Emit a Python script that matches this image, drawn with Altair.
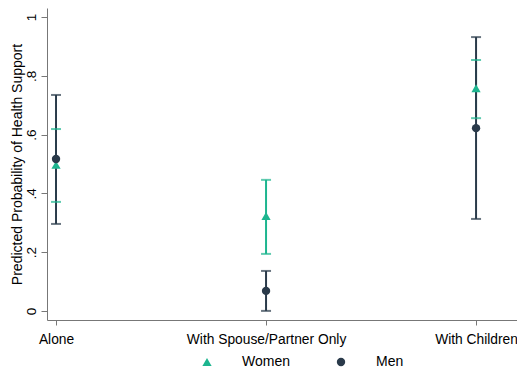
import altair as alt
import pandas as pd

categories = ["Alone", "With Spouse/Partner Only", "With Children"]
groups = ["Women", "Men"]
women_est = [0.497, 0.323, 0.758]
women_lo = [0.371, 0.194, 0.656]
women_hi = [0.619, 0.446, 0.854]
men_est = [0.517, 0.068, 0.622]
men_lo = [0.296, 0.000, 0.313]
men_hi = [0.735, 0.136, 0.932]

rows = []
for i, c in enumerate(categories):
    rows.append({"pos": i, "cat": c, "group": "Women", "est": women_est[i], "lo": women_lo[i], "hi": women_hi[i], "ord": 0})
    rows.append({"pos": i, "cat": c, "group": "Men", "est": men_est[i], "lo": men_lo[i], "hi": men_hi[i], "ord": 1})
df = pd.DataFrame(rows)

colors = ["#1db58f", "#2a3a4a"]

xlab = "datum.value == 0 ? 'Alone' : datum.value == 1 ? 'With Spouse/Partner Only' : 'With Children'"
x = alt.X("pos:Q", scale=alt.Scale(domain=[-0.043, 2.195], nice=False, zero=False),
          axis=alt.Axis(values=[0, 1, 2], labelExpr=xlab, title=None, grid=False,
                        domainColor="#777777", tickColor="#777777", tickSize=5,
                        labelFont="Liberation Sans", labelFontSize=13.8, labelColor="#000000",
                        labelPadding=7, labelFlush=False))
yscale = alt.Scale(domain=[-0.031, 1.031], nice=False, zero=False)
yaxis = alt.Axis(values=[0, 0.2, 0.4, 0.6, 0.8, 1.0],
                 labelExpr="datum.value == 0 ? '0' : datum.value == 1 ? '1' : replace(format(datum.value, '.1f'), '0.', '.')",
                 title="Predicted Probability of Health Support", grid=False,
                 domainColor="#777777", tickColor="#777777", tickSize=6,
                 labelFont="Liberation Sans", labelFontSize=13.5, labelColor="#000000",
                 labelAngle=-90, labelAlign="center", labelBaseline="bottom", labelPadding=3,
                 titleFont="Liberation Sans", titleFontSize=14, titleFontWeight="normal",
                 titleColor="#000000", titlePadding=0)

base = alt.Chart(df)

rules = []
caps = []
for g, c in zip(groups, colors):
    d = base.transform_filter(alt.datum.group == g)
    rules.append(d.mark_rule(color=c, strokeWidth=2).encode(x=x, y=alt.Y("lo:Q", scale=yscale, axis=yaxis), y2="hi:Q"))
    caps.append(d.mark_tick(color=c, orient="horizontal", size=10, thickness=2).encode(x=x, y=alt.Y("lo:Q", scale=yscale)))
    caps.append(d.mark_tick(color=c, orient="horizontal", size=10, thickness=2).encode(x=x, y=alt.Y("hi:Q", scale=yscale)))

points = base.mark_point(filled=True, opacity=1).encode(
    x=x,
    y=alt.Y("est:Q", scale=yscale),
    color=alt.Color("group:N", scale=alt.Scale(domain=groups, range=colors),
                    legend=alt.Legend(title=None, orient="none", legendX=153, legendY=347,
                                      direction="horizontal", labelFont="Liberation Sans",
                                      labelFontSize=14, labelColor="#000000",
                                      symbolSize=80, labelOffset=28, columnPadding=44,
                                      symbolStrokeWidth=0)),
    shape=alt.Shape("group:N", scale=alt.Scale(domain=groups, range=["triangle-up", "circle"]), legend=None),
    size=alt.Size("group:N", scale=alt.Scale(domain=groups, range=[85, 70]), legend=None),
    order=alt.Order("ord:Q"),
)

chart = alt.layer(*rules, *caps, points).properties(
    width=470, height=312,
    autosize=alt.AutoSizeParams(type="none"),
    padding={"left": 39, "top": 0, "right": 0, "bottom": 54},
    background="#ffffff",
).configure_view(stroke=None)

chart.save("out.html", embed_options={"renderer": "svg", "actions": False})
